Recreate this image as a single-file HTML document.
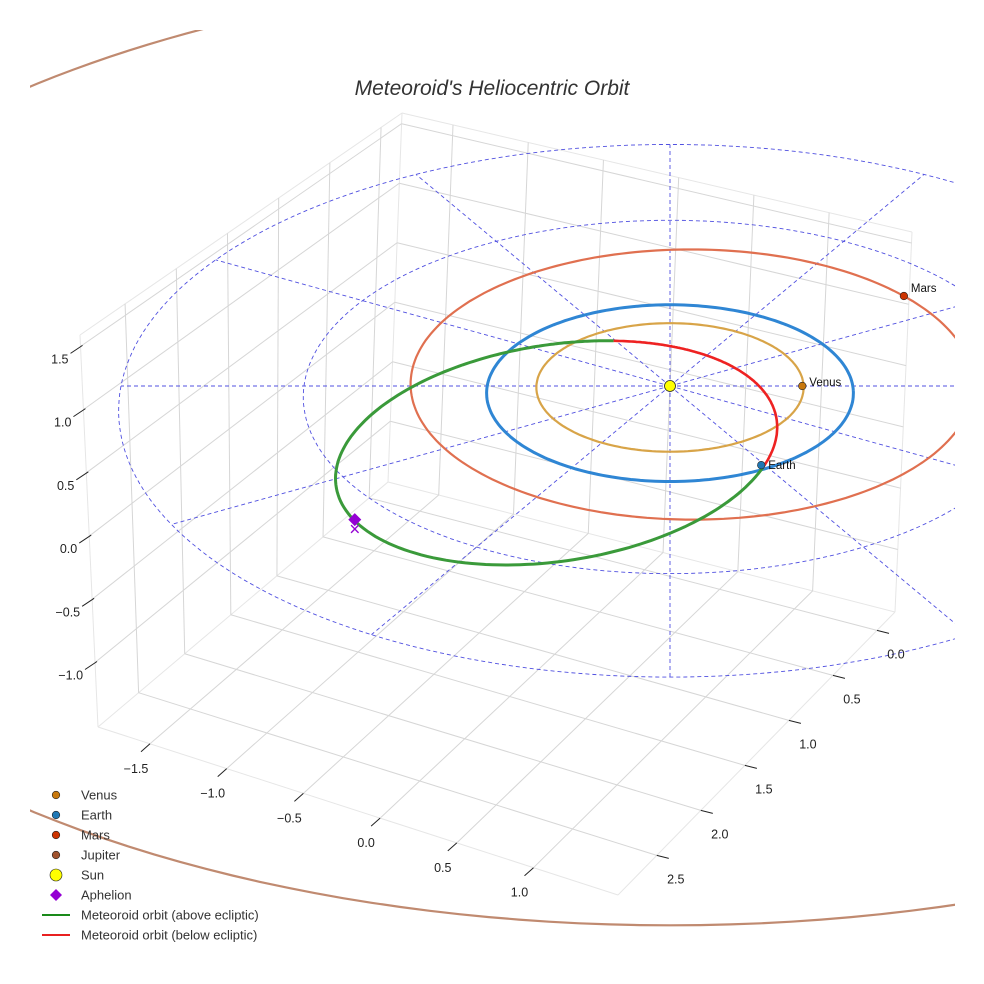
<!DOCTYPE html>
<html><head><meta charset="utf-8"><style>
html,body{margin:0;padding:0;background:#fff;}
svg{display:block;font-family:"Liberation Sans",sans-serif;}
</style></head><body>
<svg id="chart" width="984" height="984" viewBox="0 0 984 984">
<defs><clipPath id="clip"><rect x="30" y="30" width="925" height="954"/></clipPath></defs>
<g id="box"></g>
<g id="plot" clip-path="url(#clip)"></g>
<g id="ticks"></g>
<text x="492" y="95" text-anchor="middle" font-size="21" font-style="italic" fill="#333">Meteoroid's Heliocentric Orbit</text>
<g id="legend"></g>
</svg>
<script>
// ---- data ----
const planetNames = ["Venus","Earth","Mars"];
const orbitRadius = [0.73, 1.0, 1.54];
const orbitCenterX = [0, 0, 0.12];
const orbitCenterY = [0, -0.05, 0.09];
const planetX = [0.723, 0.485, 1.32];
const planetY = [0.0, -0.875, 1.056];
const jupiterRadius = 5.33, jupiterCenterY = 0.18;
const gridRadii = [2, 3];
const spokeAngles = [0,30,60,90,120,150,180,210,240,270,300,330];
// meteoroid orbit sample points (AU, projected on ecliptic)
const meteorX = [-0.305,0.127,0.417,0.569,0.576,0.489,0.214,-0.067,-0.433,-0.818,-1.169,-1.453,-1.653,-1.759,-1.619,-1.247,-0.961,-0.666];
const meteorY = [0.508,0.414,0.103,-0.270,-0.459,-0.895,-1.381,-1.660,-1.833,-1.893,-1.863,-1.731,-1.420,-1.034,-0.304,0.160,0.333,0.496];
// nodes where the orbit crosses the ecliptic (below-ecliptic arc between them)
const nodeX = [-0.305, 0.489];
const nodeY = [0.508, -0.895];
const aphelionX = -1.645, aphelionY = -1.45;
const xTicks = ["−1.5","−1.0","−0.5","0.0","0.5","1.0"];
const xTickVals = [-1.5,-1,-0.5,0,0.5,1];
const yTicks = ["0.0","0.5","1.0","1.5","2.0","2.5"];
const yTickVals = [0,0.5,1,1.5,2,2.5];
const zTicks = ["−1.0","−0.5","0.0","0.5","1.0","1.5"];
const zTickVals = [-1,-0.5,0,0.5,1,1.5];

const NS="http://www.w3.org/2000/svg";
function mk(tag, attrs, parent){const e=document.createElementNS(NS,tag);for(const k in attrs)e.setAttribute(k,attrs[k]);parent.appendChild(e);return e;}
function P(X,Y){const d=1+0.031*Y;return [670+X*183/d, 386-88*Y/d];}
function circlePath(cx,cy,r){let s="";for(let i=0;i<=240;i++){const t=i/240*2*Math.PI;const p=P(cx+r*Math.cos(t),cy+r*Math.sin(t));s+=(i?"L":"M")+p[0].toFixed(1)+","+p[1].toFixed(1);}return s;}
const lerp=(a,b,t)=>[a[0]+(b[0]-a[0])*t,a[1]+(b[1]-a[1])*t];

// ---- box ----
const B1=[98,727],B2=[388,482],B3=[895,612],B4=[618,895],T1=[80,335],T2=[402,113],T3=[912,232];
const box=document.getElementById("box");
const uOf=v=>0.10+(v+1.5)*0.295;
const vOf=v=>0.065+v*0.318;
const zOf=z=>(z+1.51)/3.10;
function line(a,b,stroke,w,name,parent){const l=mk("line",{x1:a[0],y1:a[1],x2:b[0],y2:b[1],stroke:stroke,"stroke-width":w},parent||box);return l;}
[[B1,B2],[B2,B3],[B1,T1],[B2,T2],[B3,T3],[T1,T2],[T2,T3],[B1,B4],[B4,B3]].forEach(e=>line(e[0],e[1],"#e6e6e6",1,"box-edge"));
xTickVals.forEach(v=>{const u=uOf(v);line(lerp(B1,B4,u),lerp(B2,B3,u),"#d6d6d6",1,"floor-grid-x");
  line(lerp(B2,B3,u),lerp(T2,T3,u),"#d6d6d6",1,"right-wall-grid-x");});
yTickVals.forEach(v=>{const s=vOf(v);line(lerp(B3,B4,s),lerp(B2,B1,s),"#d6d6d6",1,"floor-grid-y");
  line(lerp(B2,B1,s),lerp(T2,T1,s),"#d6d6d6",1,"left-wall-grid-y");});
zTickVals.forEach(z=>{const t=zOf(z);line(lerp(B1,T1,t),lerp(B2,T2,t),"#d6d6d6",1,"left-wall-grid-z");
  line(lerp(B2,T2,t),lerp(B3,T3,t),"#d6d6d6",1,"right-wall-grid-z");});

// ---- plot ----
const plot=document.getElementById("plot");
gridRadii.forEach(r=>{const p=mk("path",{d:circlePath(0,0,r),fill:"none",stroke:"#5050e0","stroke-width":0.9,"stroke-dasharray":"4,3"},plot);
  });
spokeAngles.forEach(a=>{const t=a*Math.PI/180;const e=P(3*Math.cos(t),3*Math.sin(t));const c=P(0,0);
  const l=mk("line",{x1:c[0],y1:c[1],x2:e[0],y2:e[1],stroke:"#5050e0","stroke-width":0.9,"stroke-dasharray":"4,3"},plot);
  });
const jp=mk("path",{d:circlePath(0,jupiterCenterY,jupiterRadius),fill:"none",stroke:"#c08a70","stroke-width":2.2},plot);

const orbitColors=["#d8a448","#2f86d4","#e07050"];
const orbitWidths=[2.2,3,2.2];
const planetColors=["#c8780c","#1f77b4","#cc3300"];
planetNames.forEach((n,i)=>{const p=mk("path",{d:circlePath(orbitCenterX[i],orbitCenterY[i],orbitRadius[i]),fill:"none",stroke:orbitColors[i],"stroke-width":orbitWidths[i]},plot);
  });

// meteoroid: least-squares conic fit  A x^2 + B xy + C y^2 + D x + E y = 1
function solve(M,b){const n=b.length;for(let i=0;i<n;i++){let p=i;for(let k=i+1;k<n;k++)if(Math.abs(M[k][i])>Math.abs(M[p][i]))p=k;
  [M[i],M[p]]=[M[p],M[i]];[b[i],b[p]]=[b[p],b[i]];for(let k=i+1;k<n;k++){const f=M[k][i]/M[i][i];for(let j=i;j<n;j++)M[k][j]-=f*M[i][j];b[k]-=f*b[i];}}
  const x=new Array(n).fill(0);for(let i=n-1;i>=0;i--){let s=b[i];for(let j=i+1;j<n;j++)s-=M[i][j]*x[j];x[i]=s/M[i][i];}return x;}
const NtN=[...Array(5)].map(()=>new Array(5).fill(0)),Ntb=new Array(5).fill(0);
meteorX.forEach((x,i)=>{const y=meteorY[i];const row=[x*x,x*y,y*y,x,y];
  for(let a=0;a<5;a++){Ntb[a]+=row[a];for(let b=0;b<5;b++)NtN[a][b]+=row[a]*row[b];}});
const [cA,cB,cC,cD,cE]=solve(NtN,Ntb);
function rAt(th){const c=Math.cos(th),s=Math.sin(th);const qa=cA*c*c+cB*c*s+cC*s*s,qb=cD*c+cE*s;
  return (-qb+Math.sqrt(qb*qb+4*qa))/(2*qa);}
function polarArc(t0,t1){let s="";const N=200;for(let i=0;i<=N;i++){const t=t0+(t1-t0)*i/N;const r=rAt(t);const p=P(r*Math.cos(t),r*Math.sin(t));s+=(i?"L":"M")+p[0].toFixed(1)+","+p[1].toFixed(1);}return s;}
let aA=Math.atan2(nodeY[0],nodeX[0]), aB=Math.atan2(nodeY[1],nodeX[1]);
while(aB>aA)aB-=2*Math.PI;
const g=mk("path",{d:polarArc(aB,aA-2*Math.PI),fill:"none",stroke:"#3a9a3a","stroke-width":3},plot);

const r=mk("path",{d:polarArc(aA,aB),fill:"none",stroke:"#ee2222","stroke-width":2.6},plot);


// planets
planetNames.forEach((nm,i)=>{const p=P(planetX[i],planetY[i]);
  const c=mk("circle",{cx:p[0],cy:p[1],r:3.8,fill:planetColors[i],stroke:"#222","stroke-width":0.6},plot);
  
  const t=mk("text",{x:p[0]+7,y:p[1]+(i==1?4:i==2?-4:0),"font-size":11.5,fill:"#111"},plot);t.textContent=nm;
  });
const sp=P(0,0);
const sun=mk("circle",{cx:sp[0],cy:sp[1],r:5.5,fill:"#ffff00",stroke:"#222","stroke-width":0.8},plot);

const ap=P(aphelionX,aphelionY);
const apx=mk("text",{x:ap[0],y:ap[1]+16,"font-size":19,fill:"#9400d3","text-anchor":"middle"},plot);apx.textContent="×";

const dia=mk("path",{d:`M${ap[0]},${ap[1]-6.5}L${ap[0]+6.5},${ap[1]}L${ap[0]},${ap[1]+6.5}L${ap[0]-6.5},${ap[1]}Z`,fill:"#9400d3"},plot);


// ---- ticks ----
const tk=document.getElementById("ticks");
xTickVals.forEach((v,i)=>{const p=lerp(B1,B4,uOf(v));line(p,[p[0]-9,p[1]+8],"#222",1,"x-tick",tk);
  const t=mk("text",{x:p[0]-14,y:p[1]+29,"font-size":12.5,fill:"#222","text-anchor":"middle"},tk);t.textContent=xTicks[i];
  });
yTickVals.forEach((v,i)=>{const p=lerp(B3,B4,vOf(v));line(p,[p[0]+12,p[1]+3],"#222",1,"y-tick",tk);
  const t=mk("text",{x:p[0]+19,y:p[1]+28,"font-size":12.5,fill:"#222","text-anchor":"middle"},tk);t.textContent=yTicks[i];
  });
zTickVals.forEach((v,i)=>{const p=lerp(B1,T1,zOf(v));line([p[0]+2,p[1]-1],[p[0]-10,p[1]+7],"#222",1,"z-tick",tk);
  const t=mk("text",{x:p[0]-12,y:p[1]+17,"font-size":12.5,fill:"#222","text-anchor":"end"},tk);t.textContent=zTicks[i];
  });

// ---- legend ----
const lg=document.getElementById("legend");
const legendLabels=["Venus","Earth","Mars","Jupiter","Sun","Aphelion","Meteoroid orbit (above ecliptic)","Meteoroid orbit (below ecliptic)"];
const legendColors=["#c8780c","#1f77b4","#cc3300","#a0522d","#ffff00","#9400d3","#1a8a1a","#e82020"];
legendLabels.forEach((lab,i)=>{const y=795+i*20;
  const gi=mk("g",{},lg);
  if(i<5){mk("circle",{cx:56,cy:y,r:i==4?6:3.8,fill:legendColors[i],stroke:"#222","stroke-width":0.6},gi);}
  else if(i==5){mk("path",{d:`M56,${y-6}L62,${y}L56,${y+6}L50,${y}Z`,fill:legendColors[i]},gi);}
  else{mk("line",{x1:42,y1:y,x2:70,y2:y,stroke:legendColors[i],"stroke-width":2},gi);}
  const t=mk("text",{x:81,y:y+4.5,"font-size":13,fill:"#333"},gi);t.textContent=lab;});
</script>
</body></html>
